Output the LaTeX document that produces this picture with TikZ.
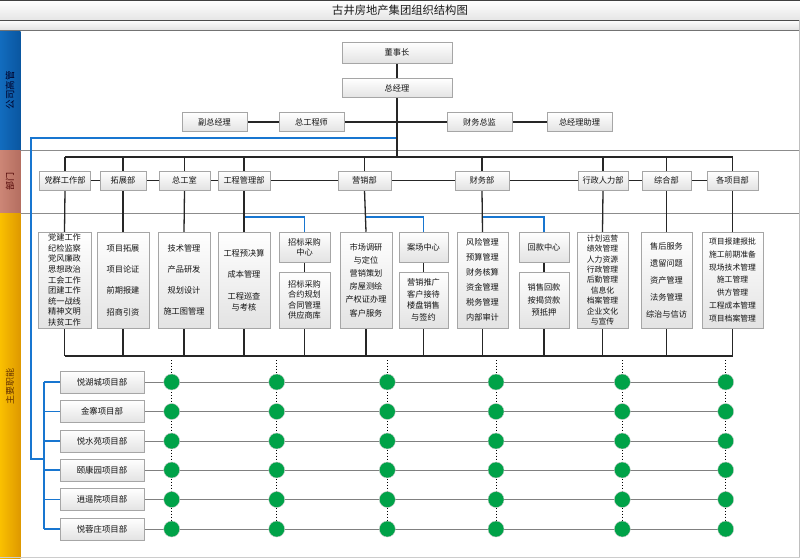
\documentclass[tikz,border=0pt]{standalone}
\usepackage{fontspec}
\setmainfont{Noto Sans CJK SC}
\usetikzlibrary{shadows}
\definecolor{bandblue}{RGB}{18,108,190}
\definecolor{bandblueD}{RGB}{10,86,160}
\definecolor{bandred}{RGB}{204,134,118}
\definecolor{bandredD}{RGB}{180,110,96}
\definecolor{bandyel}{RGB}{250,192,0}
\definecolor{bandyelD}{RGB}{222,152,0}
\definecolor{linkblue}{RGB}{24,118,208}
\definecolor{dotgreen}{RGB}{0,162,72}
\pgfdeclarelayer{back}
\pgfdeclarelayer{lines}
\pgfsetlayers{back,lines,main}
\begin{document}
\begin{tikzpicture}[x=1pt,y=-1pt,
  box/.style={draw=black!35, line width=0.5pt, top color=white, bottom color=black!11,
    inner sep=0pt, align=center, font=\fontsize{8.2}{10}\selectfont, text=black!92,
    drop shadow={shadow xshift=0.8pt, shadow yshift=-0.8pt, opacity=0.22, fill=black}},
  conn/.style={line width=1.3pt, black!85},
  bconn/.style={line width=1.1pt, linkblue},
  rowline/.style={line width=0.9pt, black!50},
  dotv/.style={line width=0.9pt, dotted, black},
  gdot/.style={circle, fill=dotgreen, draw=black!20, line width=0.4pt, minimum size=16pt, inner sep=0pt},
  bandtxt/.style={rotate=90, font=\fontsize{9}{10}\selectfont}
]
\useasboundingbox (0,0) rectangle (800,558);

% ---------- backdrop ----------
\begin{pgfonlayer}{back}
  \shade[top color=white, bottom color=black!10] (0,0) rectangle (800,20);
  \shade[top color=white, bottom color=black!12] (0,20) rectangle (800,30.5);
  \draw[black!70, line width=0.8pt] (0,20) -- (800,20);
  \draw[black!55, line width=0.8pt] (0,30.5) -- (800,30.5);
  \draw[black!75, line width=1pt] (0,0.5) -- (800,0.5);
  \shade[left color=bandblue, right color=bandblueD] (0,31) rectangle (20.5,150);
  \shade[left color=bandred, right color=bandredD] (0,150) rectangle (20.5,213);
  \shade[left color=bandyel, right color=bandyelD] (0,213) rectangle (20.5,558);
  \draw[black!45, line width=0.7pt] (20.5,150) -- (800,150);
  \draw[black!45, line width=0.7pt] (20.5,213) -- (800,213);
  \draw[black!25, line width=0.8pt] (799.3,20) -- (799.3,558);
  \draw[black!20, line width=0.8pt] (0,557.5) -- (800,557.5);
\end{pgfonlayer}

\node[font=\fontsize{11.3}{12}\selectfont, text=black!90] (title) at (400,10.5) {古井房地产集团组织结构图};
\node[bandtxt, font=\fontsize{9.5}{10}\selectfont, text=black!85!blue] (lbA) at (10,90) {公司高管};
\node[bandtxt, text=black!70!red] (lbB) at (10,181) {部门};
\node[bandtxt, text=black!60!orange] (lbC) at (10,386) {主要职能};

% ---------- top management ----------
\node[box, minimum width=110pt, minimum height=21pt] (dsz) at (397,52.5) {董事长};
\node[box, minimum width=110pt, minimum height=19pt] (zjl) at (397,88) {总经理};
\node[box, minimum width=65pt, minimum height=19pt] (fzjl) at (214.5,122) {副总经理};
\node[box, minimum width=65pt, minimum height=19pt] (zgcs) at (311.5,122) {总工程师};
\node[box, minimum width=65pt, minimum height=19pt] (cwzj) at (479.5,122) {财务总监};
\node[box, minimum width=65pt, minimum height=19pt] (zjlzl) at (579.5,122) {总经理助理};

% ---------- departments ----------
\node[box, minimum width=51pt, minimum height=19pt] (dq) at (65,180.5) {党群工作部};
\node[box, minimum width=46pt, minimum height=19pt] (tz) at (123,180.5) {拓展部};
\node[box, minimum width=51pt, minimum height=19pt] (zgs) at (184.5,180.5) {总工室};
\node[box, minimum width=52pt, minimum height=19pt] (gcgl) at (244,180.5) {工程管理部};
\node[box, minimum width=53pt, minimum height=19pt] (yx) at (364.5,180.5) {营销部};
\node[box, minimum width=54pt, minimum height=19pt] (cw) at (482,180.5) {财务部};
\node[box, minimum width=50pt, minimum height=19pt] (xzrl) at (603,180.5) {行政人力部};
\node[box, minimum width=49pt, minimum height=19pt] (zh) at (666.5,180.5) {综合部};
\node[box, minimum width=51pt, minimum height=19pt] (gxmb) at (732.5,180.5) {各项目部};

% ---------- functions ----------
\node[box, minimum width=53pt, minimum height=96pt, font=\fontsize{8.2}{10.6}\selectfont] (d1) at (64.5,280)
  {党建工作\\纪检监察\\党风廉政\\思想政治\\工会工作\\团建工作\\统一战线\\精神文明\\扶贫工作};
\node[box, minimum width=52pt, minimum height=96pt, font=\fontsize{8.2}{21.3}\selectfont] (d2) at (123,280)
  {项目拓展\\项目论证\\前期报建\\招商引资};
\node[box, minimum width=52pt, minimum height=96pt, font=\fontsize{8.2}{21}\selectfont] (d3) at (184,280)
  {技术管理\\产品研发\\规划设计\\施工图管理};
\node[box, minimum width=52pt, minimum height=96pt, font=\fontsize{8.2}{11}\selectfont] (d4) at (244,280)
  {工程预决算\\[10.5pt]成本管理\\[10.5pt]工程巡查\\与考核};
\node[box, minimum width=51pt, minimum height=30pt, font=\fontsize{8.2}{10}\selectfont] (d4b) at (304.5,247)
  {招标采购\\中心};
\node[box, minimum width=51pt, minimum height=56pt, font=\fontsize{8.2}{10.5}\selectfont] (d4c) at (304.5,300)
  {招标采购\\合约规划\\合同管理\\供应商库};
\node[box, minimum width=52pt, minimum height=96pt, font=\fontsize{8.2}{13.2}\selectfont] (d5) at (366,280)
  {市场调研\\与定位\\营销策划\\房屋测绘\\产权证办理\\客户服务};
\node[box, minimum width=49pt, minimum height=30pt] (d5b) at (423.5,247) {案场中心};
\node[box, minimum width=49pt, minimum height=56pt, font=\fontsize{8.2}{11.6}\selectfont] (d5c) at (423.5,300)
  {营销推广\\客户接待\\楼盘销售\\与签约};
\node[box, minimum width=51pt, minimum height=96pt, font=\fontsize{8.2}{15}\selectfont] (d6) at (482.5,280)
  {风险管理\\预算管理\\财务核算\\资金管理\\税务管理\\内部审计};
\node[box, minimum width=50pt, minimum height=30pt] (d6b) at (544,247) {回款中心};
\node[box, minimum width=50pt, minimum height=56pt, font=\fontsize{8.2}{12.7}\selectfont] (d6c) at (544,300)
  {销售回款\\按揭贷款\\预抵押};
\node[box, minimum width=51pt, minimum height=96pt, font=\fontsize{7.8}{10.4}\selectfont] (d7) at (602.5,280)
  {计划运营\\绩效管理\\人力资源\\行政管理\\后勤管理\\信息化\\档案管理\\企业文化\\与宣传};
\node[box, minimum width=51pt, minimum height=96pt, font=\fontsize{8.2}{17}\selectfont] (d8) at (666.5,280)
  {售后服务\\遗留问题\\资产管理\\法务管理\\综治与信访};
\node[box, minimum width=61pt, minimum height=96pt, font=\fontsize{7.8}{12.7}\selectfont] (d9) at (732.5,280)
  {项目报建报批\\施工前期准备\\现场技术管理\\施工管理\\供方管理\\工程成本管理\\项目档案管理};

% ---------- projects ----------
\foreach \r/\y/\t in {1/382/悦湖城项目部, 2/411.5/金寨项目部, 3/441/悦水苑项目部,
                      4/470/颐康园项目部, 5/499.5/逍遥院项目部, 6/529/悦蓉庄项目部}{
  \node[box, minimum width=84pt, minimum height=22pt, font=\fontsize{8.4}{10}\selectfont] (p\r) at (102,\y) {\t};
  \foreach \c/\x in {1/171.7, 2/276.7, 3/387.3, 4/496, 5/622.3, 6/725.7}{
    \node[gdot] (g\r\c) at (\x,\y) {};
  }
}

% ---------- helper coordinates ----------
\coordinate (bus) at (0,157);
\coordinate (sbl) at (0,217);
\coordinate (bbus) at (0,356);
\coordinate (dtop) at (0,360);
\coordinate (btop) at (31,138);
\coordinate (bbot) at (31,459);
\coordinate (bjoin) at (44,459);

% ---------- connectors ----------
\begin{pgfonlayer}{lines}
  % blue links
  \draw[bconn] (zjl.south |- btop) -- (btop) -- (bbot) -- (bjoin);
  \draw[bconn] (p1.west -| bjoin) -- (p6.west -| bjoin);
  \foreach \r in {1,...,6}{ \draw[bconn] (p\r.west -| bjoin) -- (p\r.west); }
  \draw[bconn] (gcgl.south |- sbl) -| (d4b.north);
  \draw[bconn] (yx.south |- sbl) -| (d5b.north);
  \draw[bconn] (cw.south |- sbl) -| (d6b.north);
  % top
  \draw[conn] (dsz.south) -- (zjl.north);
  \draw[conn] (zjl.south) -- (zjl.south |- bus);
  \draw[conn] (fzjl.east) -- (zjlzl.west);
  % department bus
  \draw[conn] (dq.north |- bus) -- (gxmb.north |- bus);
  \foreach \n in {dq,tz,zgs,gcgl,yx,cw,xzrl,zh,gxmb}{ \draw[conn] (\n.north) -- (\n.north |- bus); }
  \draw[conn] (dq.east) -- (gxmb.west);
  % department to functions
  \draw[conn] (dq.south) -- (d1.north);
  \draw[conn] (tz.south) -- (d2.north);
  \draw[conn] (zgs.south) -- (d3.north);
  \draw[conn] (gcgl.south) -- (d4.north);
  \draw[conn] (yx.south) -- (d5.north);
  \draw[conn] (cw.south) -- (d6.north);
  \draw[conn] (xzrl.south) -- (d7.north);
  \draw[conn] (zh.south) -- (d8.north);
  \draw[conn] (gxmb.south) -- (d9.north);
  \draw[conn] (d4b.south) -- (d4c.north);
  \draw[conn] (d5b.south) -- (d5c.north);
  \draw[conn] (d6b.south) -- (d6c.north);
  % bottom bus
  \draw[conn] (d1.south |- bbus) -- (d9.south |- bbus);
  \foreach \n in {d1,d2,d3,d4,d4c,d5,d5c,d6,d6c,d7,d8,d9}{ \draw[conn] (\n.south) -- (\n.south |- bbus); }
  % project rows
  \foreach \r in {1,...,6}{ \draw[rowline] (p\r.east) -- (g\r6.center); }
  \foreach \c in {1,...,6}{ \draw[dotv] (g1\c |- dtop) -- (g6\c.center); }
\end{pgfonlayer}
\end{tikzpicture}
\end{document}
